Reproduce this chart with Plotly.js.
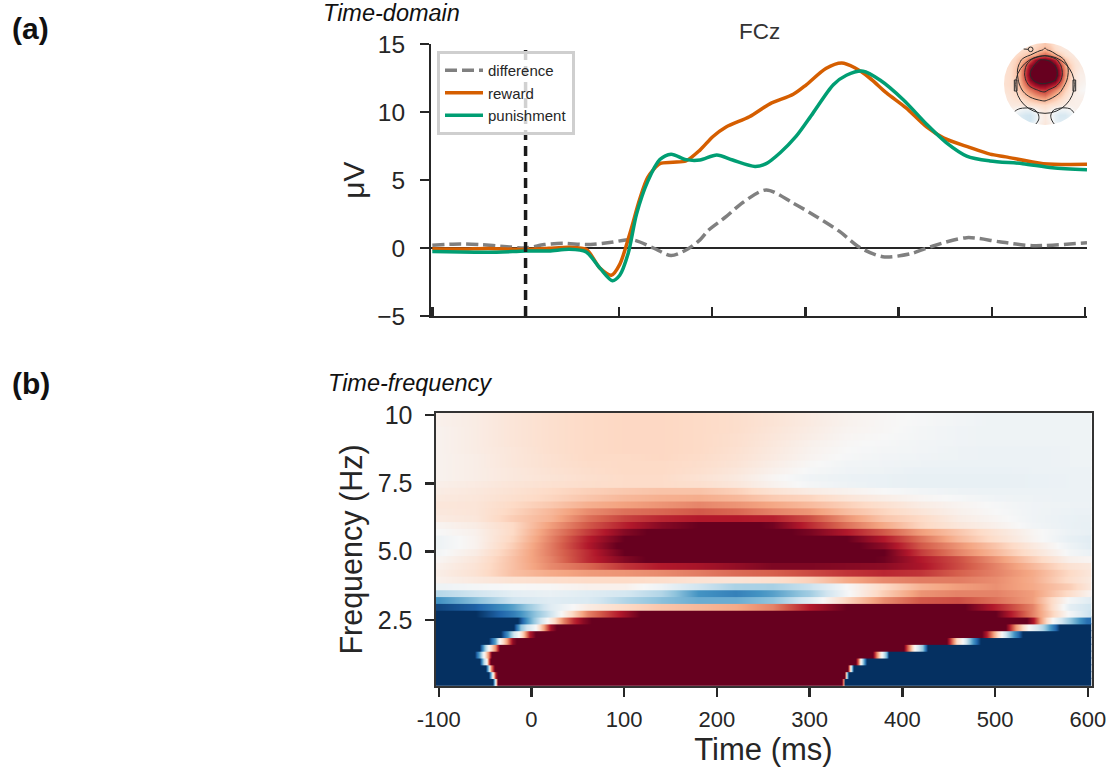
<!DOCTYPE html>
<html>
<head>
<meta charset="utf-8">
<script src="https://cdn.plot.ly/plotly-3.0.1.min.js"></script>
<style>html,body{margin:0;padding:0;background:#fff}#chart{width:1110px;height:768px}</style>
</head>
<body>
<div id="chart"></div>
<script>
// ---------- (a) time-domain ----------
const rewardT = [-100,-70,-40,-10,0,25,47,65,80,92,101,112,122,131,144,158,172,187,201,215,240,262,287,301,322,339,353,369,387,408,430,448,476,498,515,555,602];
const rewardV = [-0.05,-0.08,-0.03,-0.1,-0.1,-0.02,0.05,-0.1,-1.5,-2.0,-1.2,1.1,3.5,5.2,6.2,6.3,6.4,7.2,8.2,8.9,9.65,10.6,11.3,12,13.2,13.6,13.25,12.5,11.4,10.3,8.9,8.1,7.4,6.9,6.7,6.2,6.15];
const punishT = [-100,-70,-40,-10,0,25,47,65,80,93,101,110,119,131,144,156,172,187,205,222,246,258,273,290,308,330,344,362,380,405,430,451,473,498,533,565,602];
const punishV = [-0.25,-0.3,-0.32,-0.25,-0.22,-0.22,-0.1,-0.3,-1.5,-2.4,-2.0,-0.4,2.5,4.9,6.5,6.9,6.5,6.47,6.84,6.47,6.0,6.2,7.0,8.2,9.9,12,12.7,13,12.35,10.9,9.1,7.75,6.76,6.4,6.2,5.9,5.76];
const diffT = [-100,-70,-50,-20,0,20,40,65,90,115,137,156,172,187,196,215,233,258,287,312,337,358,383,412,437,473,508,544,602];
const diffV = [0.2,0.3,0.25,0.1,0,0.25,0.35,0.25,0.4,0.6,0,-0.55,-0.15,0.6,1.3,2.3,3.35,4.27,3.3,2.3,1.2,0.05,-0.64,-0.44,0.15,0.76,0.46,0.17,0.39];
const topYTicks = [-5,0,5,10,15];
const topYLabels = ['\u22125','0','5','10','15'];
const xTicks = [-100,0,100,200,300,400,500,600];
const xLabels = ['-100','0','100','200','300','400','500','600'];

// ---------- (b) time-frequency, in percent of the colour range ----------
const rowFreqs = [0.2,0.45,0.7,0.95,1.2,1.45,1.7,1.95,2.2,2.45,2.7,2.95,3.2,3.45,3.7,3.95,4.2,4.45,4.7,4.95,5.2,5.45,5.7,5.95,6.2,6.45,6.7,6.95,7.2,7.45,7.7,7.95,8.2,8.45,8.7,8.95,9.2,9.45,9.7,9.95];
const rowHalf = 0.125;
const rowOverlap = 0.05;
const lowTimes = [
 [-110,-42,-39,-37,334,336,338,610],
 [-110,-46,-43,-39,-37,338,340,342,610],
 [-110,-50,-46,-44,-40,341,344,347,610],
 [-110,-56,-52,-49,-46,-44,350,353,355,358,361,610],
 [-110,-61,-55,-52,-46,-43,368,372,377,383,385,610],
 [-110,-56,-51,-46,-39,-34,401,406,413,422,427,610],
 [-110,-46,-39,-34,-27,-20,-16,448,453,458,465,472,480,484,610],
 [-110,-33,-26,-19,-14,-9,-2,4,485,491,498,507,516,525,530,610],
 [-110,-19,-12,-5,4,13,21,27,511,522,536,551,565,570,610],
 [-110,-15,-5,5,15,25,35,45,55,65,534,541,548,555,562,581,599,610]
];
const lowValues = [
 [-100,-100,0,100,100,40,-100,-100],
 [-100,-100,-30,80,100,100,-20,-100,-100],
 [-100,-100,-30,40,100,100,0,-100,-100],
 [-100,-100,-30,0,60,100,100,50,0,-50,-100,-100],
 [-100,-100,-40,0,50,100,100,50,0,-50,-100,-100],
 [-100,-100,-40,0,50,100,100,60,0,-40,-100,-100],
 [-100,-100,-50,0,40,90,100,100,60,20,0,-40,-80,-100,-100],
 [-100,-100,-60,-20,0,30,80,100,100,80,40,0,-40,-80,-100,-100],
 [-100,-100,-40,-20,0,40,85,100,100,45,0,-30,-80,-100,-100],
 [-100,-100,-60,-30,-5,20,50,75,90,100,100,80,45,20,0,-40,-75,-80]
];
const midTimes = [-100,-60,-20,20,60,100,140,180,220,260,300,340,380,420,460,500,540,580,620];
const midRows = [
 [-100,-100,-70,-20,50,85,120,120,120,120,120,120,120,120,110,100,50,-2,-38],
 [-92,-82,-55,-12,8,20,28,33,38,50,80,100,105,105,105,78,50,-10,-27],
 [-60,-42,-20,-12,-15,-30,-42,-50,-50,-40,-12,22,47,62,65,55,42,-2,-20],
 [-28,-20,-10,-7,-12,-18,-30,-60,-68,-55,-35,-2,25,45,50,50,42,18,-8],
 [-5,-2,0,1,5,5,-5,-20,-32,-33,-22,0,20,35,42,46,38,25,0],
 [5,10,15,18,20,20,18,15,14,17,24,38,48,52,52,47,37,18,3],
 [7,15,30,38,43,45,48,52,57,60,66,72,76,72,60,50,38,20,5],
 [5,14,30,48,58,72,80,83,88,94,94,92,90,82,66,50,33,15,7],
 [2,12,30,50,75,93,105,105,105,105,105,105,98,80,65,45,25,5,0],
 [-2,8,28,52,75,100,110,110,110,110,110,110,100,70,50,33,15,-2,-10],
 [-5,4,25,52,80,105,110,110,110,110,110,105,90,62,45,28,10,-5,-15],
 [-5,4,22,50,78,100,110,110,110,110,105,100,80,55,33,17,3,-8,-14],
 [0,5,20,47,70,92,105,105,105,105,95,80,62,42,28,14,2,-6,-10],
 [3,8,20,42,62,78,92,100,105,97,75,55,38,22,12,5,-3,-7,-9],
 [9,12,25,35,55,68,76,80,80,78,65,45,28,20,8,2,-4,-7,-8],
 [11,13,22,33,47,55,58,62,58,50,44,31,22,13,5,0,-4,-6,-7],
 [12,13,20,27,36,41,45,49,45,39,32,24,16,8,3,-1,-4,-5,-6],
 [10,12,17,22,28,33,36,37,33,26,22,13,7,2,-1,-4,-5,-6,-6],
 [8,11,15,20,24,27,29,29,24,15,8,4,0,-3,-5,-6,-6,-6,-6],
 [6,9,13,16,18,19,19,17,12,4,-2,-5,-7,-8,-8,-8,-7,-6,-6],
 [4,7,11,14,17,19,19,15,10,2,-4,-6,-7,-8,-8,-8,-7,-6,-6],
 [4,7,11,15,18,20,20,17,12,5,-1,-4,-5,-7,-7,-7,-6,-6,-6],
 [4,7,12,16,19,20,20,18,14,7,1,-3,-4,-5,-6,-6,-6,-5,-5],
 [4,7,12,16,20,20,21,19,15,9,3,-1,-3,-4,-5,-6,-6,-5,-5],
 [4,8,12,17,20,21,21,20,16,10,4,0,-2,-3,-5,-6,-6,-5,-5],
 [4,8,13,17,20,21,21,20,17,11,5,1,-1,-3,-4,-5,-5,-5,-5],
 [4,8,13,17,20,21,21,20,17,12,7,2,0,-2,-4,-5,-5,-5,-5],
 [4,8,13,17,20,21,21,20,18,13,8,3,1,-2,-4,-5,-5,-5,-5],
 [5,8,13,17,20,21,21,20,18,14,9,4,1,-1,-3,-5,-5,-5,-5],
 [5,8,13,17,20,21,21,20,18,14,9,5,2,-1,-3,-5,-5,-5,-5]
];
const rdbu = [[0,'#053061'],[0.1,'#2166ac'],[0.2,'#4393c3'],[0.3,'#92c5de'],[0.4,'#d1e5f0'],[0.5,'#f7f7f7'],[0.6,'#fddbc7'],[0.7,'#f4a582'],[0.8,'#d6604d'],[0.9,'#b2182b'],[1,'#67001f']];

// ---------- scalp map inset ----------
const topoX = [30,45,60,75,90,105,120,135,150,165,180,195,210,225,240,255,270];
const topoY = [30,45,60,75,90,105,120,135,150,165,180,195,210,225,240,255,270];
const topoZ = [
 [12,12,12,14,16,18,20,24,28,24,16,12,10,10,10,10,10],
 [14,14,16,18,20,22,24,30,36,30,20,14,12,10,10,10,10],
 [15,16,18,22,26,32,40,52,60,50,38,26,16,12,10,10,10],
 [16,18,22,30,42,62,85,100,100,95,78,52,30,18,12,10,10],
 [16,18,24,36,58,85,100,110,110,110,98,70,40,24,14,10,10],
 [16,18,26,40,66,95,110,120,120,120,110,80,46,26,14,8,8],
 [16,18,26,40,68,98,115,120,120,120,112,82,46,24,12,6,6],
 [16,18,24,38,62,90,105,115,115,110,100,72,40,22,12,6,4],
 [16,18,22,34,52,72,85,92,92,85,75,55,32,18,10,4,2],
 [14,16,20,28,40,52,62,70,72,62,50,38,24,14,8,2,0],
 [12,14,18,22,30,38,46,52,56,46,36,28,18,10,6,4,4],
 [12,12,14,16,20,26,30,34,36,30,24,18,12,8,6,6,6],
 [10,10,10,10,12,14,16,18,20,16,14,10,8,6,6,6,6],
 [8,6,2,-4,-8,-8,0,8,12,6,-2,-6,-6,-2,4,6,6],
 [8,2,-6,-14,-18,-20,-10,4,10,2,-10,-16,-16,-10,0,6,6],
 [8,4,-4,-12,-18,-20,-10,4,10,4,-8,-14,-14,-8,2,6,6],
 [8,6,2,-2,-6,-8,0,8,12,8,0,-4,-4,0,4,6,6]
];

// Flat runs keep their value right up to the edge of a transition.
function guarded(ts, vs) {
  const t = [], v = [];
  ts.forEach((tv, i) => {
    if (i > 0 && vs[i] === vs[i-1] && tv - ts[i-1] > 12) {
      t.push(ts[i-1] + 3, tv - 3); v.push(vs[i], vs[i]);
    }
    t.push(tv); v.push(vs[i]);
  });
  return {t, v};
}

const W = 1110, H = 768;
const dx = (a, b) => [a / W, b / W];
const dy = (top, bottom) => [1 - bottom / H, 1 - top / H];
const ink = '#262626';
const font = 'Liberation Sans, Arial, sans-serif';

const traces = [
  {x: diffT, y: diffV, name: 'difference', mode: 'lines', xaxis: 'x', yaxis: 'y',
   line: {color: '#808080', width: 3.5, dash: '12px,5px', shape: 'spline', smoothing: 0.8}},
  {x: rewardT, y: rewardV, name: 'reward', mode: 'lines', xaxis: 'x', yaxis: 'y',
   line: {color: '#d55e00', width: 3.5, shape: 'spline', smoothing: 0.8}},
  {x: punishT, y: punishV, name: 'punishment', mode: 'lines', xaxis: 'x', yaxis: 'y',
   line: {color: '#009e73', width: 3.5, shape: 'spline', smoothing: 0.8}}
];

rowFreqs.forEach((f, k) => {
  let t, v;
  if (k < lowTimes.length) { const g = guarded(lowTimes[k], lowValues[k]); t = g.t; v = g.v; }
  else { t = midTimes; v = midRows[k - lowTimes.length]; }
  traces.push({type: 'heatmap', x: t, y: [f - rowHalf, f + rowHalf + rowOverlap], z: [v], xaxis: 'x2', yaxis: 'y2',
    zmin: -100, zmax: 100, colorscale: rdbu, showscale: false, zsmooth: 'best', hoverinfo: 'skip', showlegend: false});
});

traces.push({type: 'heatmap', x: topoX, y: topoY, z: topoZ, xaxis: 'x3', yaxis: 'y3',
  zmin: -100, zmax: 100, colorscale: rdbu, showscale: false, zsmooth: 'best', hoverinfo: 'skip', showlegend: false});
traces.push({type: 'contour', x: topoX, y: topoY, z: topoZ, xaxis: 'x3', yaxis: 'y3', showlegend: false,
  autocontour: false, contours: {coloring: 'none', start: 0, end: 100, size: 33},
  line: {color: '#2b2b2b', width: 1, smoothing: 1}, showscale: false, hoverinfo: 'skip'});

const layout = {
  width: W, height: H, margin: {l: 0, r: 0, t: 0, b: 0}, paper_bgcolor: '#fff', plot_bgcolor: 'rgba(0,0,0,0)',
  font: {family: font, color: ink},
  showlegend: true,
  legend: {x: 437/W, y: 1 - 51/H, xanchor: 'left', yanchor: 'top', bgcolor: 'rgba(255,255,255,0.8)',
    bordercolor: '#cfcfcf', borderwidth: 3, font: {size: 15, color: ink, family: font}, itemwidth: 38, tracegroupgap: 0},
  xaxis: {domain: dx(431, 1087), range: [-101.4, 602], tickvals: xTicks, ticktext: xLabels.map(() => ''), ticks: 'inside', ticklen: 9, tickwidth: 2.5,
    tickcolor: ink, showline: true, linecolor: ink, linewidth: 2, showgrid: false, zeroline: false, anchor: 'y'},
  yaxis: {domain: dy(44, 316), range: [-5, 15], tickvals: topYTicks, ticktext: topYLabels, ticks: 'outside', ticklen: 9, tickwidth: 2.5, ticklabelstandoff: 10,
    tickcolor: ink, showline: true, linecolor: ink, linewidth: 2, showgrid: false, zeroline: true, zerolinecolor: ink, zerolinewidth: 1.5,
    tickfont: {size: 24.5, color: ink}, anchor: 'x', title: {text: '\u03bcV', font: {size: 30, color: ink}, standoff: 4}},
  xaxis2: {domain: dx(435.5, 1091.5), range: [-103.5, 604], tickvals: xTicks, ticktext: xLabels, ticks: 'outside', ticklen: 9, tickwidth: 2.5, ticklabelstandoff: 4,
    tickcolor: ink, showline: true, mirror: true, linecolor: '#333', linewidth: 2, showgrid: false, zeroline: false, anchor: 'y2',
    tickfont: {size: 22, color: ink}, title: {text: 'Time (ms)', font: {size: 31, color: ink}, standoff: 7}},
  yaxis2: {domain: dy(413, 686), range: [0.075, 10.075], tickvals: [2.5, 5, 7.5, 10], ticktext: ['2.5', '5.0', '7.5', '10'], ticks: 'outside', ticklen: 9, tickwidth: 2.5, ticklabelstandoff: 7,
    tickcolor: ink, showline: true, mirror: true, linecolor: '#333', linewidth: 2, showgrid: false, zeroline: false, anchor: 'x2',
    tickfont: {size: 25, color: ink}, title: {text: 'Frequency (Hz)', font: {size: 30.5, color: ink}, standoff: 6}},
  xaxis3: {domain: dx(1004, 1086), range: [27, 273], visible: false, anchor: 'y3', fixedrange: true},
  yaxis3: {domain: dy(43, 125), range: [270, 24], visible: false, anchor: 'x3', fixedrange: true},
  shapes: [
    {type: 'line', xref: 'x', yref: 'y', x0: 0, x1: 0, y0: -5, y1: 15, line: {color: '#1a1a1a', width: 3.5, dash: '10px,6px'}},
    // mask round the scalp map
    {type: 'circle', xref: 'x3', yref: 'y3', x0: -9, x1: 309, y0: -12, y1: 306, line: {color: '#fff', width: 24}},
    // head outline, ears and the small electrode mark
    {type: 'circle', xref: 'x3', yref: 'y3', x0: 62, x1: 238, y0: 62, y1: 235, line: {color: '#2b2b2b', width: 1}},
    {type: 'rect', xref: 'x3', yref: 'y3', x0: 58, x1: 66, y0: 135, y1: 168, line: {color: '#2b2b2b', width: 1}},
    {type: 'rect', xref: 'x3', yref: 'y3', x0: 234, x1: 242, y0: 135, y1: 168, line: {color: '#2b2b2b', width: 1}},
    {type: 'circle', xref: 'x3', yref: 'y3', x0: 100, x1: 114, y0: 36, y1: 50, line: {color: '#2b2b2b', width: 1}},
    {type: 'line', xref: 'x3', yref: 'y3', x0: 86, x1: 100, y0: 42, y1: 43, line: {color: '#2b2b2b', width: 1}}
  ],
  annotations: [
    {text: '<b>(a)</b>', xref: 'paper', yref: 'paper', x: 10/W, y: 1 - 28/H, xanchor: 'left', yanchor: 'middle', showarrow: false, font: {size: 30, color: '#111'}},
    {text: '<b>(b)</b>', xref: 'paper', yref: 'paper', x: 10/W, y: 1 - 383/H, xanchor: 'left', yanchor: 'middle', showarrow: false, font: {size: 30, color: '#111'}},
    {text: '<i>Time-domain</i>', xref: 'paper', yref: 'paper', x: 321/W, y: 1 - 13/H, xanchor: 'left', yanchor: 'middle', showarrow: false, font: {size: 23.5, color: '#111'}},
    {text: '<i>Time-frequency</i>', xref: 'paper', yref: 'paper', x: 326/W, y: 1 - 383/H, xanchor: 'left', yanchor: 'middle', showarrow: false, font: {size: 23.5, color: '#111'}},
    {text: 'FCz', xref: 'paper', yref: 'paper', x: 759/W, y: 1 - 32/H, xanchor: 'center', yanchor: 'middle', showarrow: false, font: {size: 22.5, color: '#333'}}
  ]
};
Plotly.newPlot('chart', traces, layout, {displayModeBar: false, staticPlot: true});
</script>
</body>
</html>
